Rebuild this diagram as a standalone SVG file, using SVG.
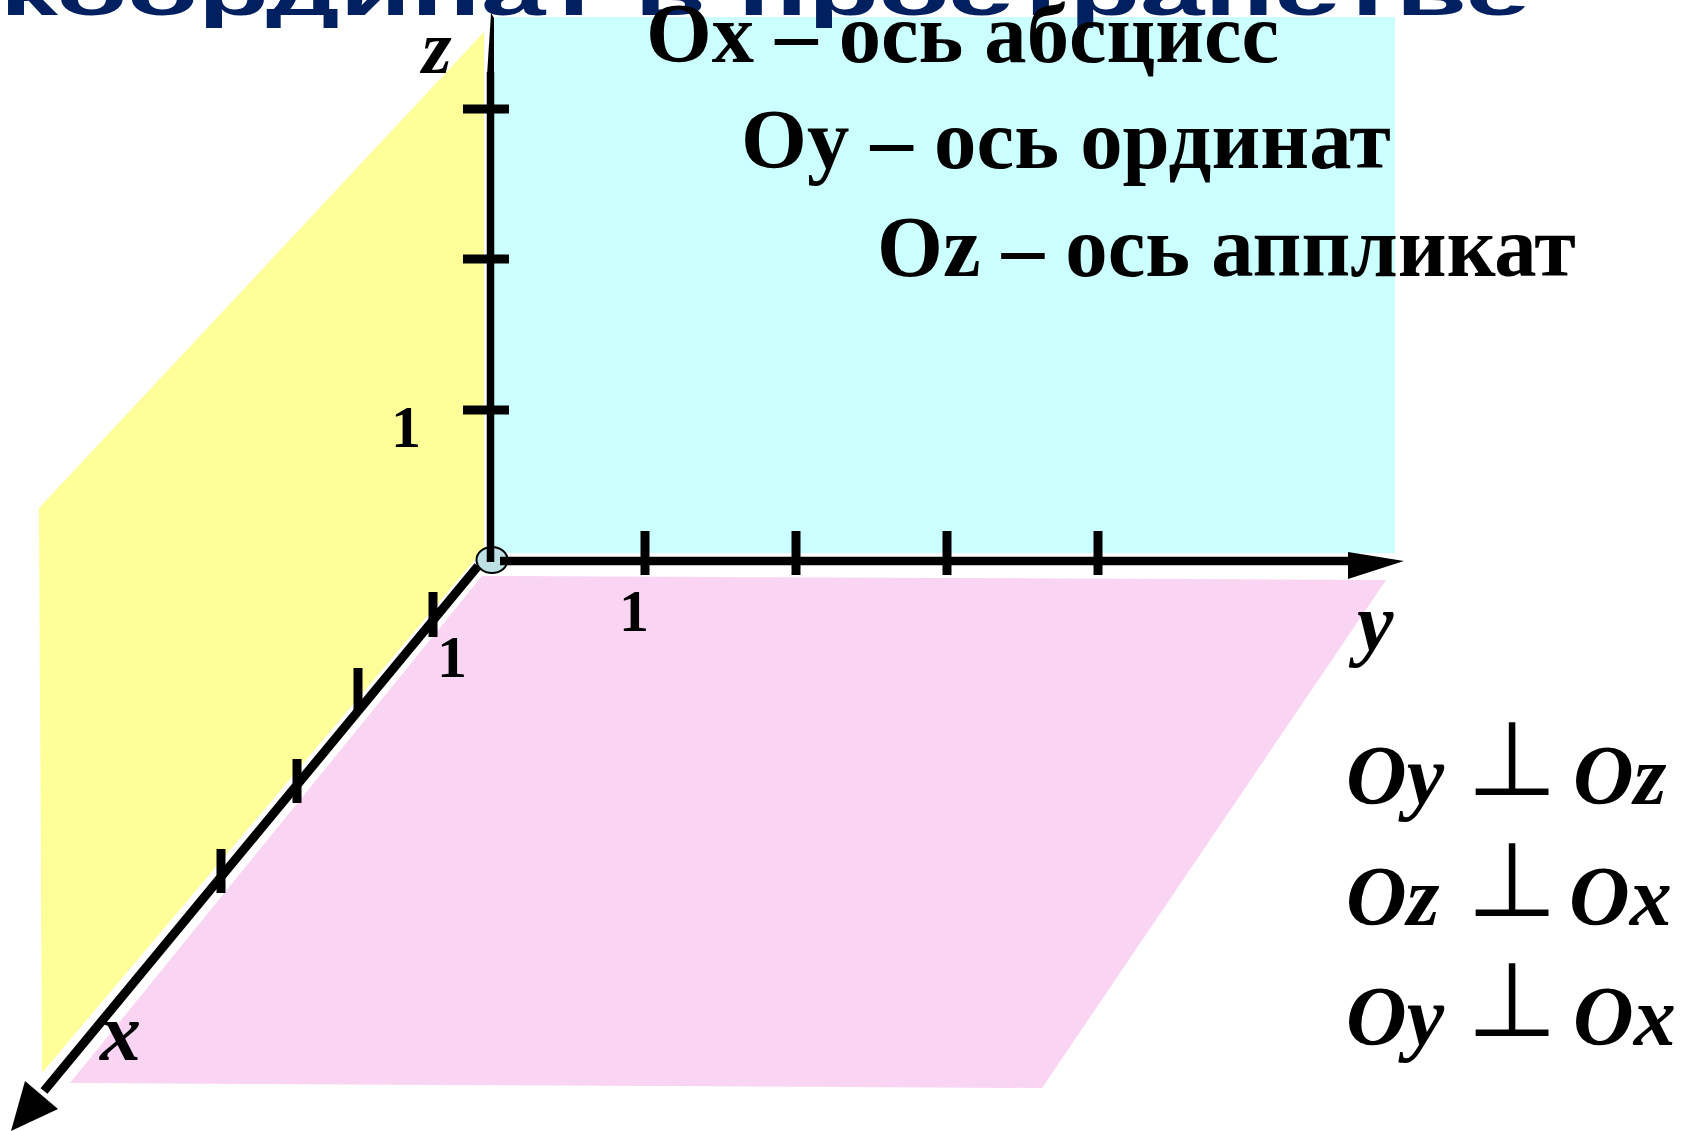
<svg xmlns="http://www.w3.org/2000/svg" width="1693" height="1131" viewBox="0 0 1693 1131">
  <style>
    .ser { font-family: "Liberation Serif", "Times New Roman", serif; fill: #000; }
    .b { font-weight: bold; }
    .bi { font-weight: bold; font-style: italic; }
    .ax { stroke: #000; fill: none; }
    .tick { stroke: #000; stroke-width: 9; }
    .perp { font-family: "DejaVu Sans", sans-serif; font-size: 104px; fill: #000; }
  </style>
  <rect width="1693" height="1131" fill="#fff"/>

  <g id="plane-xz">
    <polygon points="39,508 484,32 484,549 42,1073" fill="#FFFF99"/>
  </g>
  <g id="plane-yz">
    <rect x="494" y="17" width="901" height="536" fill="#CCFFFF"/>
  </g>
  <g id="plane-xy">
    <polygon points="482,576 1386,580 1042,1088 70,1083" fill="#F9D4F3"/>
  </g>

  <g id="title">
    <text transform="translate(0,15) scale(1,0.58)" x="0" y="0" textLength="1530" lengthAdjust="spacingAndGlyphs" font-family="Liberation Sans, Arial, sans-serif" font-weight="bold" font-size="112" fill="#002060">координат в пространстве</text>
  </g>

  <g id="connectors">
    <g id="origin">
      <ellipse cx="492" cy="560" rx="15.5" ry="13" fill="#BDE0E5" stroke="#000" stroke-width="2"/>
    </g>
    <g id="axis-z">
      <line class="ax" x1="490.5" y1="562" x2="490.5" y2="72" stroke-width="7.5"/>
      <polygon points="487,76 494,76 494,18 491,13" fill="#000"/>
      <line class="tick" x1="463" y1="109" x2="509" y2="109" stroke-width="10"/>
      <line class="tick" x1="463" y1="259" x2="509" y2="259" stroke-width="10"/>
      <line class="tick" x1="463" y1="410" x2="509" y2="410" stroke-width="10"/>
    </g>
    <g id="axis-y">
      <line class="ax" x1="500" y1="561" x2="1352" y2="561" stroke-width="8.5"/>
      <polygon points="1348,552 1404,561 1348,579" fill="#000"/>
      <line class="tick" x1="645" y1="531" x2="645" y2="575"/>
      <line class="tick" x1="796" y1="531" x2="796" y2="575"/>
      <line class="tick" x1="947" y1="531" x2="947" y2="575"/>
      <line class="tick" x1="1098" y1="531" x2="1098" y2="575"/>
    </g>
    <g id="axis-x">
      <line class="ax" x1="478" y1="566" x2="44" y2="1091" stroke-width="9"/>
      <polygon points="11,1131 25,1081 58,1109" fill="#000"/>
      <line class="tick" x1="433" y1="592" x2="433" y2="637"/>
      <line class="tick" x1="358" y1="668" x2="358" y2="712"/>
      <line class="tick" x1="297" y1="759" x2="297" y2="803"/>
      <line class="tick" x1="221" y1="849" x2="221" y2="893"/>
    </g>
  </g>

  <g id="axis-labels" class="ser">
    <text class="bi" x="422" y="73" font-size="76">z</text>
    <text class="bi" x="1357" y="650" font-size="82">y</text>
    <text class="bi" x="100" y="1060" font-size="82">x</text>
    <text class="b" x="406" y="447" font-size="60" text-anchor="middle">1</text>
    <text class="b" x="634" y="631" font-size="60" text-anchor="middle">1</text>
    <text class="b" x="452" y="677" font-size="60" text-anchor="middle">1</text>
  </g>

  <g id="axis-names" class="ser b">
    <text x="646" y="62" font-size="84" textLength="633" lengthAdjust="spacingAndGlyphs">Ox – ось абсцисс</text>
    <text x="741" y="168" font-size="84" textLength="650" lengthAdjust="spacingAndGlyphs">Oy – ось ординат</text>
    <text x="877" y="276" font-size="86" textLength="699" lengthAdjust="spacingAndGlyphs">Oz – ось аппликат</text>
  </g>

  <g id="perpendicular-relations">
    <g id="rel-1">
      <text class="ser bi" x="1346" y="804" font-size="84">Oy</text>
      <text class="perp" x="1512" y="795" text-anchor="middle">⊥</text>
      <text class="ser bi" x="1573" y="804" font-size="84">Oz</text>
    </g>
    <g id="rel-2">
      <text class="ser bi" x="1346" y="925" font-size="84">Oz</text>
      <text class="perp" x="1512" y="916" text-anchor="middle">⊥</text>
      <text class="ser bi" x="1569" y="925" font-size="84">Ox</text>
    </g>
    <g id="rel-3">
      <text class="ser bi" x="1346" y="1045" font-size="84">Oy</text>
      <text class="perp" x="1512" y="1036" text-anchor="middle">⊥</text>
      <text class="ser bi" x="1573" y="1045" font-size="84">Ox</text>
    </g>
  </g>
</svg>
